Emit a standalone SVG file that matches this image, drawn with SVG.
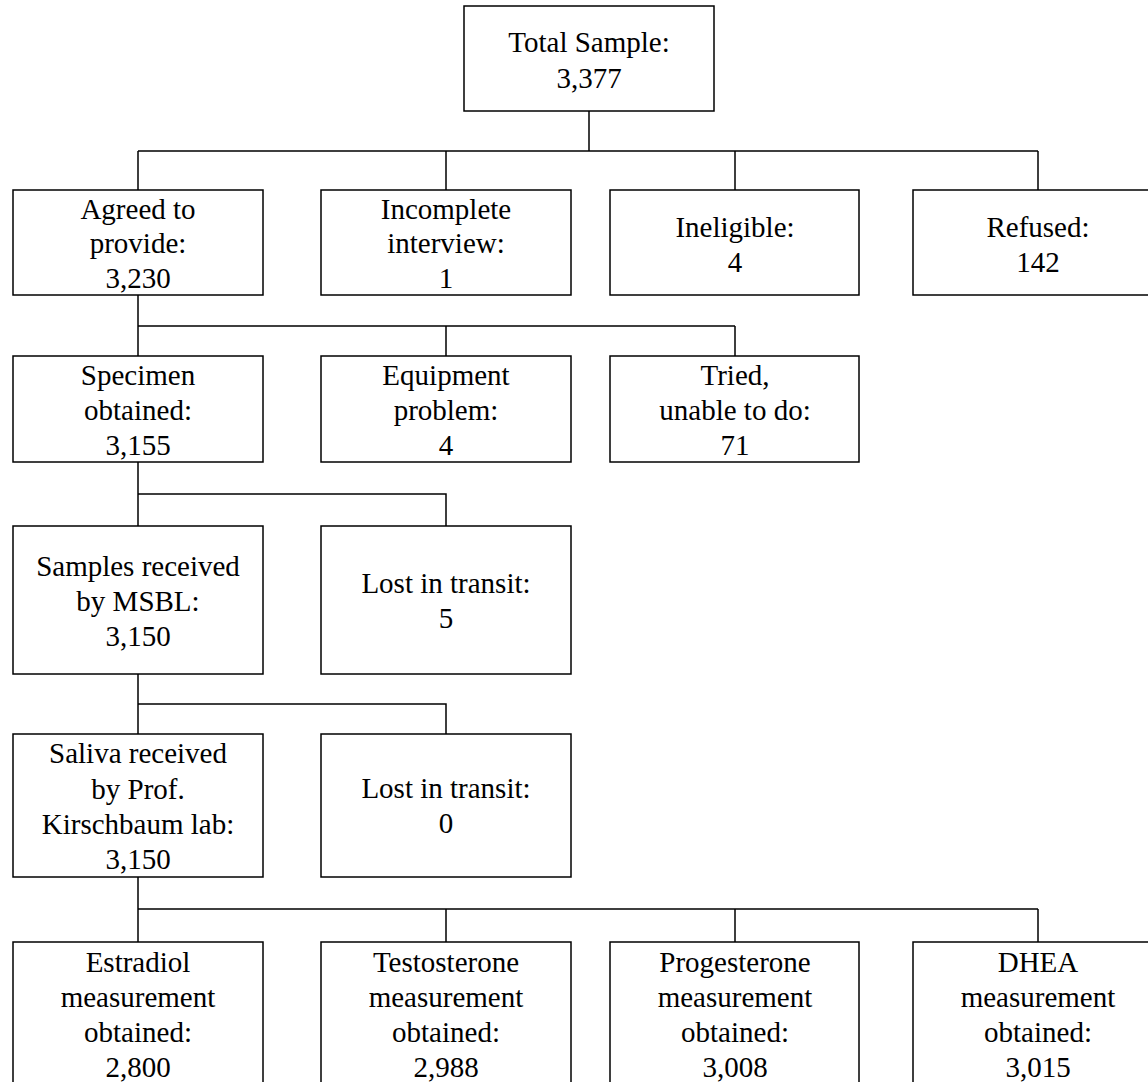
<svg xmlns="http://www.w3.org/2000/svg" width="1148" height="1082" viewBox="0 0 1148 1082">
<style>
.box{fill:#fff;stroke:#000;stroke-width:1.5}
.ln{fill:none;stroke:#000;stroke-width:1.5}
text{font-family:"Liberation Serif","Times New Roman",serif;font-size:29px;fill:#000;text-anchor:middle}
</style>
<rect width="1148" height="1082" fill="#fff"/>
<g id="connectors">
<path class="ln" d="M589,111V151M138,151H1038M138,151V190M446,151V190M735,151V190M1038,151V190"/>
<path class="ln" d="M138,295V356M138,326H735M446,326V356M735,326V356"/>
<path class="ln" d="M138,462V526M138,494H446V526"/>
<path class="ln" d="M138,674V734M138,704H446V734"/>
<path class="ln" d="M138,877V942M138,909H1038M446,909V942M735,909V942M1038,909V942"/>
</g>
<g id="total"><rect class="box" x="464" y="6" width="250" height="105"/><text x="589" y="52">Total Sample:</text><text x="589" y="88">3,377</text></g>
<g id="agreed"><rect class="box" x="13" y="190" width="250" height="105"/><text x="138" y="219">Agreed to</text><text x="138" y="253">provide:</text><text x="138" y="288">3,230</text></g>
<g id="incomplete"><rect class="box" x="321" y="190" width="250" height="105"/><text x="446" y="219">Incomplete</text><text x="446" y="253">interview:</text><text x="446" y="288">1</text></g>
<g id="ineligible"><rect class="box" x="610" y="190" width="249" height="105"/><text x="735" y="237">Ineligible:</text><text x="735" y="272">4</text></g>
<g id="refused"><rect class="box" x="913" y="190" width="250" height="105"/><text x="1038" y="237">Refused:</text><text x="1038" y="272">142</text></g>
<g id="specimen"><rect class="box" x="13" y="356" width="250" height="106"/><text x="138" y="385">Specimen</text><text x="138" y="420">obtained:</text><text x="138" y="455">3,155</text></g>
<g id="equipment"><rect class="box" x="321" y="356" width="250" height="106"/><text x="446" y="385">Equipment</text><text x="446" y="420">problem:</text><text x="446" y="455">4</text></g>
<g id="tried"><rect class="box" x="610" y="356" width="249" height="106"/><text x="735" y="385">Tried,</text><text x="735" y="420">unable to do:</text><text x="735" y="455">71</text></g>
<g id="samples"><rect class="box" x="13" y="526" width="250" height="148"/><text x="138" y="576">Samples received</text><text x="138" y="611">by MSBL:</text><text x="138" y="646">3,150</text></g>
<g id="lost1"><rect class="box" x="321" y="526" width="250" height="148"/><text x="446" y="593">Lost in transit:</text><text x="446" y="628">5</text></g>
<g id="saliva"><rect class="box" x="13" y="734" width="250" height="143"/><text x="138" y="763">Saliva received</text><text x="138" y="799">by Prof.</text><text x="138" y="834">Kirschbaum lab:</text><text x="138" y="869">3,150</text></g>
<g id="lost2"><rect class="box" x="321" y="734" width="250" height="143"/><text x="446" y="798">Lost in transit:</text><text x="446" y="833">0</text></g>
<g id="estradiol"><rect class="box" x="13" y="942" width="250" height="150"/><text x="138" y="972">Estradiol</text><text x="138" y="1007">measurement</text><text x="138" y="1042">obtained:</text><text x="138" y="1077">2,800</text></g>
<g id="testosterone"><rect class="box" x="321" y="942" width="250" height="150"/><text x="446" y="972">Testosterone</text><text x="446" y="1007">measurement</text><text x="446" y="1042">obtained:</text><text x="446" y="1077">2,988</text></g>
<g id="progesterone"><rect class="box" x="610" y="942" width="249" height="150"/><text x="735" y="972">Progesterone</text><text x="735" y="1007">measurement</text><text x="735" y="1042">obtained:</text><text x="735" y="1077">3,008</text></g>
<g id="dhea"><rect class="box" x="913" y="942" width="250" height="150"/><text x="1038" y="972">DHEA</text><text x="1038" y="1007">measurement</text><text x="1038" y="1042">obtained:</text><text x="1038" y="1077">3,015</text></g>
</svg>
